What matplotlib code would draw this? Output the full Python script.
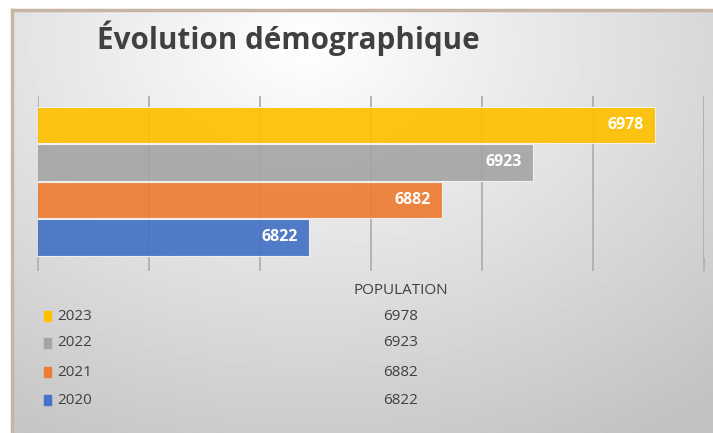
import numpy as np
import matplotlib.pyplot as plt

# Data
years = ["2020", "2021", "2022", "2023"]
population = [6822, 6882, 6923, 6978]
colors = ["#4472C4", "#ED7D31", "#A5A5A5", "#FFC000"]

W, H = 713, 433
fig = plt.figure(figsize=(W / 100, H / 100), dpi=100)
fig.patch.set_facecolor("white")

# panel with radial gradient background
bg = fig.add_axes([12 / W, 0, 1 - 12 / W, 1 - 10 / H])
gx, gy = np.meshgrid(np.linspace(0, 1, 400), np.linspace(0, 1, 250))
d = np.sqrt(((gx - 0.42) / 0.9) ** 2 + ((gy - 0.08) / 1.1) ** 2)
shade = 1.0 - 0.24 * np.clip(d, 0, 1)
bg.imshow(shade, cmap="gray", vmin=0, vmax=1, aspect="auto", extent=[0, 1, 1, 0])
bg.set_xlim(0, 1)
bg.set_ylim(1, 0)
bg.axis("off")
# frame lines
fig.add_artist(plt.Line2D([12 / W, 1], [1 - 10 / H, 1 - 10 / H], color="#c8b4a2", lw=2.5))
fig.add_artist(plt.Line2D([12 / W, 12 / W], [0, 1 - 10 / H], color="#c8b4a2", lw=2.5))

# main bar axes
ax = fig.add_axes([38 / W, 1 - 258 / H, (704 - 38) / W, (258 - 96) / H])
ax.patch.set_alpha(0)
ypos = np.arange(len(years))
ax.barh(ypos, population, height=0.97, color=colors, alpha=0.92,
        edgecolor="#f4f4f4", linewidth=0.8, zorder=2)
for y, v in zip(ypos, population):
    ax.text(v - 5, y, str(v), ha="right", va="center", color="white",
            fontsize=11.5, fontweight="bold", family="Open Sans", zorder=3)
ax.set_xlim(6700, 7000)
ax.set_ylim(-0.55, 3.77)
ax.set_xticks(np.arange(6700, 7001, 50))
ax.xaxis.grid(True, color="#b3b3b3", lw=1.4, zorder=0)
ax.set_axisbelow(True)
ax.tick_params(axis="x", length=9, width=1.4, color="#b3b3b3", labelbottom=False)
ax.set_yticks([])
for s in ax.spines.values():
    s.set_visible(False)

# title
fig.text(97 / W, 1 - 38 / H, "Évolution démographique", ha="left", va="center",
         fontsize=21.3, fontweight="bold", color="#404040", family="Open Sans")

# data table
fig.text(401 / W, 1 - 291 / H, "POPULATION", ha="center", va="center",
         fontsize=11, color="#404040", family="Open Sans")
row_y = [400, 372, 343, 316]
for yr, v, c, ry in zip(years, population, colors, row_y):
    fig.add_artist(plt.Rectangle((44 / W, 1 - (ry + 5) / H), 7 / W, 10 / H,
                                 transform=fig.transFigure, color=c))
    fig.text(57 / W, 1 - ry / H, yr, ha="left", va="center",
             fontsize=11, color="#404040", family="Open Sans")
    fig.text(401 / W, 1 - ry / H, str(v), ha="center", va="center",
             fontsize=11, color="#404040", family="Open Sans")

fig.savefig("out.png", dpi=100)
